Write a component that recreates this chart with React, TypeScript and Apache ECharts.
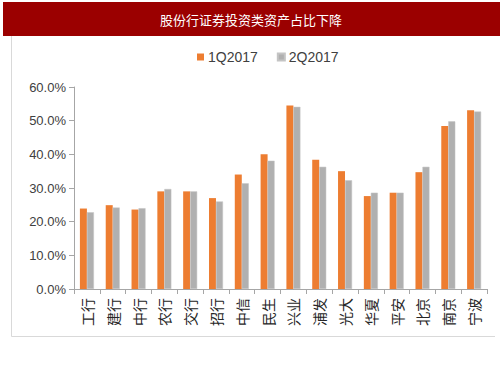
import React, { useEffect, useRef } from "react";
import * as echarts from "echarts";

const categories = ["工行", "建行", "中行", "农行", "交行", "招行", "中信", "民生", "兴业", "浦发", "光大", "华夏", "平安", "北京", "南京", "宁波"];
const q1 = [23.9, 24.9, 23.6, 29.0, 29.0, 27.0, 34.0, 40.0, 54.5, 38.4, 35.0, 27.6, 28.6, 34.7, 48.4, 53.1];
const q2 = [22.8, 24.2, 24.0, 29.7, 29.0, 26.0, 31.4, 38.1, 54.1, 36.3, 32.3, 28.6, 28.6, 36.3, 49.8, 52.7];
const seriesNames = ["1Q2017", "2Q2017"];
const title = "股份行证券投资类资产占比下降";

export default function App() {
  const ref = useRef<HTMLDivElement>(null);
  useEffect(() => {
    const chart = echarts.init(ref.current!, undefined, { renderer: "svg" });
    const font = "'Microsoft YaHei', 'Noto Sans CJK SC', sans-serif";
    chart.setOption({
      animation: false,
      textStyle: { fontFamily: font },
      graphic: [
        { type: "rect", shape: { x: 3, y: 2, width: 497, height: 34 }, style: { fill: "#9b0000" } },
        { type: "text", x: 251, y: 19, style: { text: title, fill: "#ffffff", font: "13px " + font, textAlign: "center", textVerticalAlign: "middle" } },
        { type: "line", shape: { x1: 11.5, y1: 36, x2: 11.5, y2: 336.5 }, style: { stroke: "#d9d9d9", lineWidth: 1 } },
        { type: "line", shape: { x1: 11.5, y1: 336.5, x2: 495, y2: 336.5 }, style: { stroke: "#d9d9d9", lineWidth: 1 } },
      ],
      legend: {
        top: 45,
        left: 192,
        itemWidth: 7,
        itemHeight: 7,
        itemGap: 19,
        icon: "rect",
        textStyle: { fontSize: 14, color: "#404040", fontFamily: "Arial, 'Liberation Sans', sans-serif", padding: [0, 0, 0, -1] },
        data: seriesNames,
      },
      grid: { left: 74, right: 16, top: 87, bottom: 89 },
      xAxis: {
        type: "category",
        data: categories,
        axisLine: { lineStyle: { color: "#a6a6a6" } },
        axisTick: { show: true, alignWithLabel: false, length: 5, lineStyle: { color: "#a6a6a6" } },
        axisLabel: { color: "#262626", fontSize: 14, margin: 9, interval: 0, rotate: 90, fontFamily: font },
      },
      yAxis: {
        type: "value",
        min: 0,
        max: 60,
        interval: 10,
        axisLine: { show: true, lineStyle: { color: "#a6a6a6" } },
        axisTick: { show: true, length: 5, lineStyle: { color: "#a6a6a6" } },
        splitLine: { show: false },
        axisLabel: { color: "#404040", fontSize: 13, margin: 8, formatter: (v: number) => v.toFixed(1) + "%", fontFamily: "Arial, 'Liberation Sans', sans-serif" },
      },
      series: [
        { name: seriesNames[0], type: "bar", data: q1, barWidth: 7, barGap: "0%", itemStyle: { color: "#ed7d31" } },
        { name: seriesNames[1], type: "bar", data: q2, barWidth: 7, itemStyle: { color: "#b0b0b0", borderColor: "#c4c4c4", borderWidth: 0.5 } },
      ],
    });
    return () => chart.dispose();
  }, []);
  return <div ref={ref} style={{ width: 503, height: 378, position: "absolute", left: 0, top: 0 }} />;
}
